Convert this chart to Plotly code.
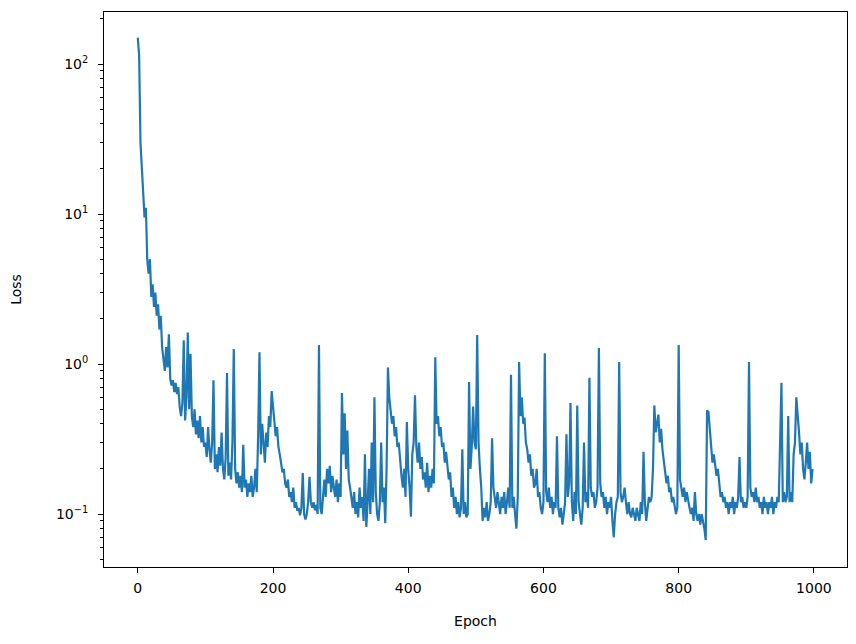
import plotly.graph_objects as go

# training loss, every 2 epochs
epochs = list(range(0, 1000, 2))
loss = [
    150, 115, 30, 19, 14, 9.5, 11, 5, 4, 5, 2.8, 3.4, 2.4, 3.0, 2.1, 2.5, 1.7, 2.1, 1.3, 1.1,
    0.9, 1.3, 0.95, 1.58, 0.8, 0.72, 0.78, 0.65, 0.75, 0.63, 0.7, 0.52, 0.45, 0.55, 1.44, 0.42, 0.6, 1.62, 0.5, 1.17,
    0.45, 0.38, 0.5, 0.34, 0.42, 0.32, 0.45, 0.3, 0.38, 0.28,
    0.3, 0.24, 0.38, 0.27, 0.22, 0.3, 0.78, 0.2, 0.25, 0.19, 0.28, 0.21, 0.35, 0.2, 0.17, 0.24, 0.87, 0.18, 0.22, 0.17,
    0.3, 1.26, 0.2, 0.16, 0.19, 0.15, 0.18, 0.14, 0.29, 0.15, 0.17, 0.13, 0.16, 0.14, 0.18, 0.13, 0.15, 0.2, 0.14, 0.33,
    1.2, 0.25, 0.4, 0.3, 0.22, 0.35, 0.28, 0.45, 0.38, 0.66,
    0.5, 0.4, 0.33, 0.38, 0.28, 0.25, 0.22, 0.19, 0.2, 0.16, 0.15, 0.17, 0.13, 0.14, 0.12, 0.15, 0.11, 0.12, 0.105, 0.11,
    0.098, 0.11, 0.188, 0.1, 0.092, 0.1, 0.12, 0.177, 0.12, 0.11, 0.12, 0.106, 0.115, 0.1, 1.34, 0.11, 0.1, 0.14, 0.17, 0.13,
    0.2, 0.16, 0.21, 0.14, 0.18, 0.15, 0.13, 0.17, 0.12, 0.16,
    0.13, 0.64, 0.25, 0.47, 0.2, 0.36, 0.17, 0.15, 0.13, 0.11, 0.14, 0.1, 0.12, 0.095, 0.15, 0.11, 0.13, 0.09, 0.25, 0.082,
    0.12, 0.2, 0.1, 0.3, 0.12, 0.6, 0.14, 0.1, 0.09, 0.12, 0.3, 0.12, 0.15, 0.087, 0.2, 0.95, 0.6, 0.5, 0.4, 0.45,
    0.33, 0.38, 0.28, 0.3, 0.22, 0.18, 0.15, 0.2, 0.13, 0.41,
    0.2, 0.15, 0.096, 0.25, 0.3, 0.62, 0.28, 0.22, 0.3, 0.2, 0.24, 0.17, 0.19, 0.15, 0.22, 0.14, 0.18, 0.15, 0.2, 0.16,
    1.11, 0.4, 0.45, 0.33, 0.38, 0.28, 0.3, 0.22, 0.26, 0.2, 0.17, 0.19, 0.13, 0.15, 0.11, 0.13, 0.1, 0.12, 0.095, 0.11,
    0.27, 0.1, 0.12, 0.095, 0.1, 0.76, 0.2, 0.28, 0.52, 0.3,
    0.27, 1.56, 0.3, 0.2, 0.15, 0.09, 0.11, 0.095, 0.12, 0.09, 0.1, 0.12, 0.32, 0.15, 0.13, 0.11, 0.14, 0.12, 0.1, 0.13,
    0.11, 0.14, 0.1, 0.12, 0.15, 0.11, 0.85, 0.11, 0.13, 0.1, 0.08, 0.13, 1.03, 0.45, 0.6, 0.4, 0.44, 0.3, 0.27, 0.22,
    0.25, 0.18, 0.2, 0.15, 0.16, 0.2, 0.13, 0.14, 0.11, 0.1,
    0.12, 1.18, 0.14, 0.12, 0.15, 0.11, 0.13, 0.1, 0.12, 0.11, 0.33, 0.11, 0.095, 0.11, 0.085, 0.1, 0.12, 0.34, 0.13, 0.16,
    0.55, 0.12, 0.09, 0.14, 0.1, 0.53, 0.12, 0.1, 0.085, 0.11, 0.3, 0.12, 0.14, 0.11, 0.81, 0.15, 0.13, 0.14, 0.11, 0.12,
    0.15, 1.28, 0.16, 0.13, 0.14, 0.11, 0.13, 0.1, 0.12, 0.11,
    0.13, 0.09, 0.07, 0.1, 0.12, 0.13, 1.03, 0.14, 0.12, 0.13, 0.15, 0.12, 0.1, 0.12, 0.1, 0.095, 0.11, 0.1, 0.09, 0.11,
    0.1, 0.09, 0.12, 0.1, 0.26, 0.12, 0.09, 0.11, 0.13, 0.12, 0.13, 0.2, 0.53, 0.35, 0.4, 0.46, 0.3, 0.37, 0.27, 0.22,
    0.2, 0.16, 0.18, 0.14, 0.15, 0.12, 0.13, 0.11, 0.1, 0.11,
    1.34, 0.17, 0.15, 0.13, 0.15, 0.12, 0.14, 0.12, 0.11, 0.1, 0.11, 0.09, 0.14, 0.1, 0.09, 0.1, 0.085, 0.1, 0.09, 0.08,
    0.067, 0.49, 0.48, 0.35, 0.27, 0.22, 0.25, 0.2, 0.18, 0.2, 0.15, 0.13, 0.14, 0.12, 0.13, 0.11, 0.12, 0.1, 0.12, 0.11,
    0.13, 0.1, 0.12, 0.11, 0.13, 0.24, 0.12, 0.13, 0.11, 0.12,
    0.11, 0.13, 1.03, 0.15, 0.13, 0.14, 0.12, 0.15, 0.12, 0.13, 0.11, 0.12, 0.1, 0.13, 0.11, 0.12, 0.1, 0.12, 0.11, 0.13,
    0.1, 0.12, 0.11, 0.13, 0.12, 0.27, 0.75, 0.12, 0.14, 0.12, 0.13, 0.45, 0.12, 0.14, 0.12, 0.25, 0.3, 0.6, 0.47, 0.35,
    0.25, 0.3, 0.2, 0.17, 0.22, 0.3, 0.2, 0.26, 0.16, 0.2,
]

x_ticks = [0, 200, 400, 600, 800, 1000]
y_ticks = [0.1, 1, 10, 100]
y_labels = ["10<sup>\u22121</sup>", "10<sup>0</sup>", "10<sup>1</sup>", "10<sup>2</sup>"]

fig = go.Figure()

fig.add_trace(go.Scatter(
    x = epochs,
    y = loss,
    mode = "lines",
    line = dict(color = "#1f77b4", width = 2.2),
    showlegend = False
))

axis_style = dict(
    showline = True, linecolor = "black", linewidth = 1, mirror = True,
    ticks = "outside", ticklen = 5, tickcolor = "black",
    showgrid = False, zeroline = False, automargin = False,
    tickfont = dict(size = 14, color = "black")
)

fig.update_xaxes(
    axis_style,
    range = [-49.95, 1048.95],
    tickvals = x_ticks,
    ticklabelstandoff = 3,
    title = dict(text = "Epoch", font = dict(size = 14, color = "black"), standoff = 21)
)

fig.update_yaxes(
    axis_style,
    type = "log",
    range = [-1.353, 2.347],
    tickvals = y_ticks,
    ticktext = y_labels,
    ticklabelstandoff = 7,
    minor = dict(ticks = "outside", ticklen = 3, tickcolor = "black", dtick = "D1", showgrid = False),
    title = dict(text = "Loss", font = dict(size = 14, color = "black"), standoff = 31)
)

# the page body adds an 8px offset, so the margins are trimmed by that much
fig.update_layout(
    width = 856, height = 644,
    margin = dict(l = 96, r = 17, t = 4, b = 85),
    plot_bgcolor = "white",
    paper_bgcolor = "white",
    font = dict(family = "DejaVu Sans", color = "black")
)

fig.write_html("out.html")
